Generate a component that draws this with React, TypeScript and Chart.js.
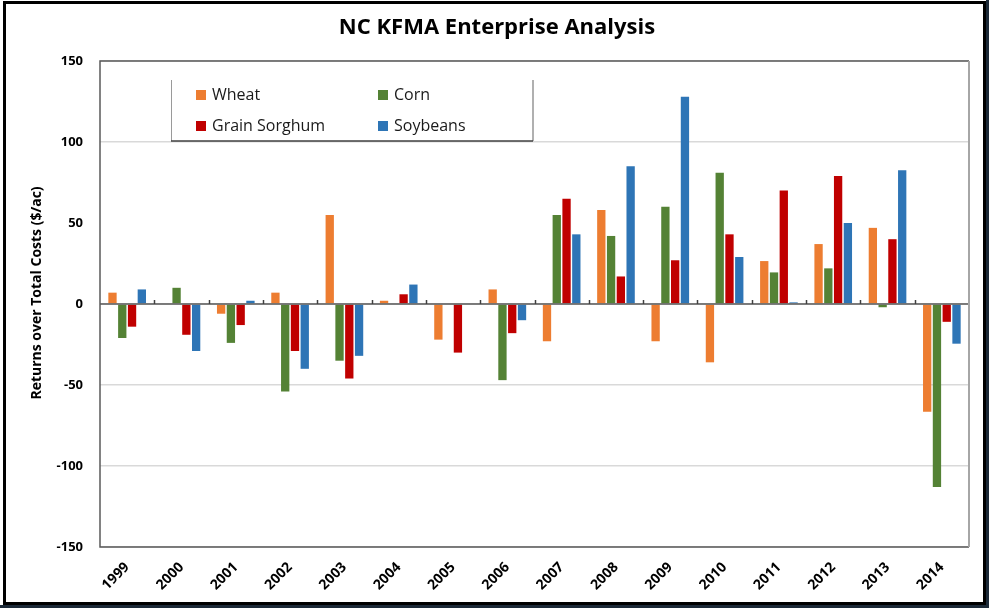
import React, { useEffect, useRef } from "react";
import { Chart, registerables } from "chart.js";
Chart.register(...registerables);

const years = ["1999", "2000", "2001", "2002", "2003", "2004", "2005", "2006", "2007", "2008", "2009", "2010", "2011", "2012", "2013", "2014"];
const wheat = [7, 0, -6, 7, 55, 2, -22, 9, -23, 58, -23, -36, 26.5, 37, 47, -66.5];
const corn = [-21, 10, -24, -54, -35, 0, 0, -47, 55, 42, 60, 81, 19.5, 22, -2, -113];
const sorghum = [-14, -19, -13, -29, -46, 6, -30, -18, 65, 17, 27, 43, 70, 79, 40, -11];
const soybeans = [9, -29, 2, -40, -32, 12, 0, -10, 43, 85, 128, 29, 1, 50, 82.5, -24.5];
const yTicks = [-150, -100, -50, 0, 50, 100, 150];
const yTitle = "Returns over Total Costs ($/ac)";

const FONT = "'Open Sans', 'DejaVu Sans', sans-serif";

const decor = {
  id: "decor",
  afterDatasetsDraw(chart: any) {
    const { ctx, chartArea: a, scales } = chart;
    const x = scales.x;
    const y = scales.y;
    const y0 = y.getPixelForValue(0);
    ctx.save();
    // zero axis line
    ctx.strokeStyle = "#595959";
    ctx.lineWidth = 1.5;
    ctx.beginPath();
    ctx.moveTo(a.left, y0);
    ctx.lineTo(a.right, y0);
    ctx.stroke();
    // category boundary tick marks
    ctx.lineWidth = 1.5;
    ctx.strokeStyle = "#404040";
    const n = chart.data.labels.length;
    for (let i = 1; i < n; i++) {
      const px = Math.round((x.getPixelForValue(i - 1) + x.getPixelForValue(i)) / 2) + 0.5;
      ctx.beginPath();
      ctx.moveTo(px, y0);
      ctx.lineTo(px, y0 - 4);
      ctx.stroke();
    }
    // plot border
    ctx.lineWidth = 1.5;
    ctx.strokeStyle = "#5a5a5a";
    ctx.beginPath();
    ctx.moveTo(a.right, a.top);
    ctx.lineTo(a.left, a.top);
    ctx.lineTo(a.left, a.bottom);
    ctx.lineTo(a.right, a.bottom);
    ctx.stroke();
    ctx.strokeStyle = "#a6a6a6";
    ctx.lineWidth = 2;
    ctx.beginPath();
    ctx.moveTo(a.right, a.top);
    ctx.lineTo(a.right, a.bottom);
    ctx.stroke();

    // y axis title
    ctx.save();
    ctx.translate(37, 293);
    ctx.rotate(-Math.PI / 2);
    ctx.font = `bold 14px ${FONT}`;
    ctx.fillStyle = "#000";
    ctx.textAlign = "center";
    ctx.textBaseline = "middle";
    ctx.fillText(yTitle, 0, 0);
    ctx.restore();

    // legend box
    const lx = 171, ly = 80, lr = 533, lb = 141;
    ctx.fillStyle = "#ffffff";
    ctx.fillRect(lx, ly, lr - lx, lb - ly);
    ctx.strokeStyle = "#9a9a9a";
    ctx.lineWidth = 1;
    ctx.beginPath();
    ctx.moveTo(lx + 0.5, ly);
    ctx.lineTo(lx + 0.5, lb);
    ctx.stroke();
    ctx.strokeStyle = "#b0b0b0";
    ctx.lineWidth = 2;
    ctx.beginPath();
    ctx.moveTo(lr, ly);
    ctx.lineTo(lr, lb);
    ctx.stroke();
    ctx.strokeStyle = "#404040";
    ctx.lineWidth = 1.5;
    ctx.beginPath();
    ctx.moveTo(lx, lb);
    ctx.lineTo(lr, lb);
    ctx.stroke();

    const pos = [
      [196, 95],
      [378, 95],
      [196, 126],
      [378, 126],
    ];
    ctx.font = `16px ${FONT}`;
    ctx.textBaseline = "middle";
    ctx.textAlign = "left";
    chart.data.datasets.forEach((ds: any, i: number) => {
      const [px, py] = pos[i];
      ctx.fillStyle = ds.backgroundColor;
      ctx.fillRect(px, py - 5, 10, 10);
      ctx.fillStyle = "#1a1a1a";
      ctx.fillText(ds.label, px + 16, py);
    });
    ctx.restore();
  },
};

export default function App() {
  const ref = useRef<HTMLCanvasElement | null>(null);
  useEffect(() => {
    document.body.style.margin = "0";
    if (!ref.current) return;
    const chart = new Chart(ref.current, {
      type: "bar",
      data: {
        labels: years,
        datasets: [
          { label: "Wheat", data: wheat, backgroundColor: "#ED7D31" },
          { label: "Corn", data: corn, backgroundColor: "#548235" },
          { label: "Grain Sorghum", data: sorghum, backgroundColor: "#C00000" },
          { label: "Soybeans", data: soybeans, backgroundColor: "#2E75B6" },
        ],
      },
      options: {
        responsive: false,
        animation: false,
        layout: { padding: { left: 25, right: 20, top: 0, bottom: 0 } },
        datasets: { bar: { categoryPercentage: 0.72, barPercentage: 0.85 } },
        plugins: {
          legend: { display: false },
          tooltip: { enabled: false },
          title: {
            display: true,
            text: "NC KFMA Enterprise Analysis",
            color: "#000",
            font: { family: FONT, size: 22, weight: "bold" },
            padding: { top: 15, bottom: 19.6 },
          },
        },
        scales: {
          x: {
            grid: { display: false, drawTicks: false },
            border: { display: false },
            ticks: {
              autoSkip: false,
              maxRotation: 45,
              minRotation: 45,
              padding: 12,
              color: "#000",
              font: { family: FONT, size: 14, weight: "bold" },
            },
            afterFit: (s: any) => {
              s.height = 61;
            },
          },
          y: {
            min: yTicks[0],
            max: yTicks[yTicks.length - 1],
            afterBuildTicks: (s: any) => {
              s.ticks = yTicks.map((v) => ({ value: v }));
            },
            grid: {
              drawTicks: false,
              color: (c: any) => (c.tick && c.tick.value === 50 ? "rgba(0,0,0,0)" : "#d9d9d9"),
              lineWidth: 1.5,
            },
            border: { display: false },
            ticks: {
              padding: 17,
              color: "#000",
              font: { family: FONT, size: 13, weight: "bold" },
            },
            afterFit: (s: any) => {
              s.width = 75;
            },
          },
        },
      },
      plugins: [decor],
    });
    return () => chart.destroy();
  }, []);

  return (
    <div style={{ position: "relative", width: 989, height: 608, background: "#fff", overflow: "hidden" }}>
      <canvas ref={ref} width={989} height={608} style={{ position: "absolute", left: 0, top: 0, display: "block" }} />
      <div
        style={{
          position: "absolute",
          left: 3,
          top: 1,
          width: 977,
          height: 598,
          border: "3px solid #000",
          pointerEvents: "none",
        }}
      />
      <div style={{ position: "absolute", left: 986, top: 0, width: 3, height: 608, background: "#1c2a38" }} />
      <div style={{ position: "absolute", left: 0, top: 605, width: 989, height: 3, background: "#1c2a38" }} />
    </div>
  );
}
